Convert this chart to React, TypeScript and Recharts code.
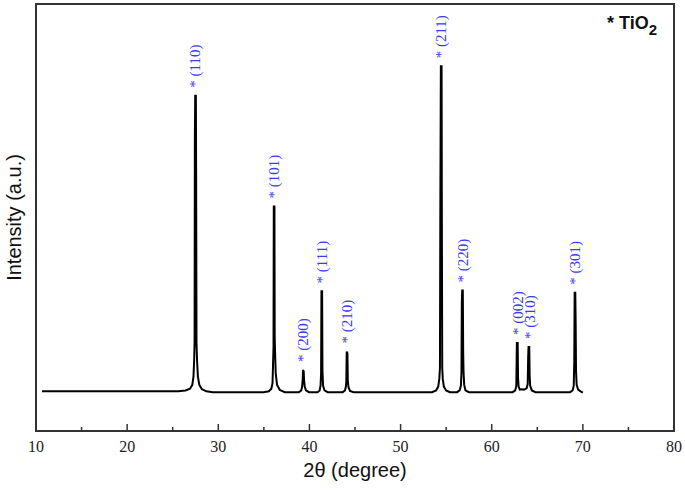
import { ComposedChart, Line, Scatter, XAxis, YAxis, ReferenceArea, Label } from "recharts";

// 2θ scan, [2θ (deg), intensity (a.u.)]
const scan: [number, number][] = [
  [10.66, 93], [25.6, 93], [26.4, 95], [26.9, 99], [27.15, 108], [27.28, 128], [27.35, 165], [27.4, 206],
  [27.43, 687], [27.47, 785], [27.54, 785], [27.57, 603], [27.61, 206], [27.67, 165], [27.76, 128],
  [27.92, 108], [28.2, 98], [28.7, 93], [29.4, 91],
  [35.0, 91], [35.55, 93], [35.82, 99], [35.95, 112], [36.02, 165], [36.06, 198], [36.09, 526], [36.16, 526],
  [36.19, 221], [36.23, 185], [36.3, 135], [36.45, 108], [36.75, 96], [37.3, 91],
  [38.85, 91], [39.1, 95], [39.2, 104], [39.26, 120], [39.3, 143], [39.37, 140], [39.41, 120], [39.48, 104],
  [39.62, 95], [39.95, 91],
  [40.9, 91], [41.12, 95], [41.22, 106], [41.28, 136], [41.32, 327], [41.39, 327], [41.43, 140], [41.5, 106],
  [41.65, 95], [42.0, 91],
  [43.65, 91], [43.9, 95], [44.0, 104], [44.05, 116], [44.09, 186], [44.17, 182], [44.21, 120], [44.28, 103],
  [44.45, 94], [44.85, 91],
  [53.45, 91], [53.9, 95], [54.13, 104], [54.25, 122], [54.32, 148], [54.36, 495], [54.42, 854], [54.5, 854],
  [54.53, 495], [54.57, 148], [54.63, 122], [54.75, 104], [55.0, 95], [55.4, 91],
  [56.2, 91], [56.48, 95], [56.62, 106], [56.68, 136], [56.72, 300], [56.76, 329], [56.83, 329], [56.87, 183],
  [56.91, 136], [56.98, 108], [57.12, 95], [57.5, 91],
  [62.3, 91], [62.58, 95], [62.7, 106], [62.76, 206], [62.85, 206], [62.89, 124], [62.95, 104], [63.08, 97],
  [63.3, 98], [63.55, 97], [63.83, 100], [63.95, 110], [64.0, 174], [64.04, 197], [64.12, 197], [64.16, 130],
  [64.22, 106], [64.4, 95], [64.8, 91],
  [68.6, 91], [68.88, 95], [69.0, 106], [69.06, 166], [69.1, 324], [69.17, 324], [69.21, 253], [69.25, 140],
  [69.32, 108], [69.48, 97], [69.75, 93], [70.0, 90],
];

const peakHkl = ["(110)", "(101)", "(200)", "(111)", "(210)", "(211)", "(220)", "(002)", "(310)", "(301)"];
const peakPos = [27.5, 36.12, 39.34, 41.36, 44.14, 54.46, 56.8, 62.83, 64.23, 69.17];
const peakTop = [785, 526, 143, 327, 186, 854, 329, 206, 197, 324];

const xTicks = [10, 15, 20, 25, 30, 35, 40, 45, 50, 55, 60, 65, 70, 75, 80];

const scanData = scan.map(([t, i]) => ({ t, i }));
const peaks = peakHkl.map((hkl, k) => ({ t: peakPos[k], i: peakTop[k], hkl }));

const SANS = "'Liberation Sans', Arial, sans-serif";
const SERIF = "'Liberation Serif', 'Times New Roman', serif";

function XTick({ x, y, payload }: any) {
  const v = payload.value;
  const major = v % 10 === 0;
  const edge = v === 10 || v === 80;
  return (
    <g>
      {!edge && <line x1={x} x2={x} y1={y} y2={y - (major ? 7 : 4)} stroke="#333" strokeWidth={1.5} />}
      {major && (
        <text x={x} y={y + 21} textAnchor="middle" fontFamily={SERIF} fontSize={16} fill="#222">
          {v}
        </text>
      )}
    </g>
  );
}

function PeakTag({ cx, cy, payload }: any) {
  const px = cx;
  const py = cy - 8;
  return (
    <text
      x={px}
      y={py}
      transform={`rotate(-90, ${px}, ${py})`}
      dominantBaseline="central"
      fontFamily={SERIF}
      fontSize={15}
      fill="#3a3af0"
    >
      {"* " + payload.hkl}
    </text>
  );
}

function FrameText({ viewBox }: any) {
  const { x, y, width, height } = viewBox;
  const yx = x - 22;
  const yy = y + height / 2;
  return (
    <g>
      <text x={yx} y={yy} transform={`rotate(-90, ${yx}, ${yy})`} textAnchor="middle" dominantBaseline="central"
        fontFamily={SANS} fontSize={20} fill="#111">
        Intensity (a.u.)
      </text>
      <text x={x + width / 2} y={y + height + 46} textAnchor="middle" fontFamily={SANS} fontSize={20} fill="#111">
        2θ (degree)
      </text>
      <text x={x + width - 67} y={y + 25} fontFamily={SANS} fontSize={18} fontWeight="bold" fill="#111">
        * TiO<tspan dy={6} fontSize={15}>2</tspan>
      </text>
    </g>
  );
}

export default function App() {
  return (
    <div style={{ position: "absolute", left: 0, top: 0, background: "#fff" }}>
      <ComposedChart width={685} height={492} margin={{ top: 4, right: 11, bottom: 0, left: 36 }}>
        <XAxis
          type="number"
          dataKey="t"
          domain={[10, 80]}
          ticks={xTicks}
          tick={<XTick />}
          tickLine={false}
          tickSize={0}
          tickMargin={0}
          axisLine={false}
          height={61}
          allowDataOverflow
        />
        <YAxis type="number" dataKey="i" domain={[0, 1000]} hide />
        <ReferenceArea x1={10} x2={80} y1={0} y2={1000} fill="none" stroke="#333" strokeWidth={2}>
          <Label content={FrameText} />
        </ReferenceArea>
        <Line
          data={scanData}
          dataKey="i"
          type="linear"
          stroke="#000"
          strokeWidth={2}
          dot={false}
          isAnimationActive={false}
        />
        <Scatter data={peaks} dataKey="i" shape={<PeakTag />} isAnimationActive={false} />
      </ComposedChart>
    </div>
  );
}
